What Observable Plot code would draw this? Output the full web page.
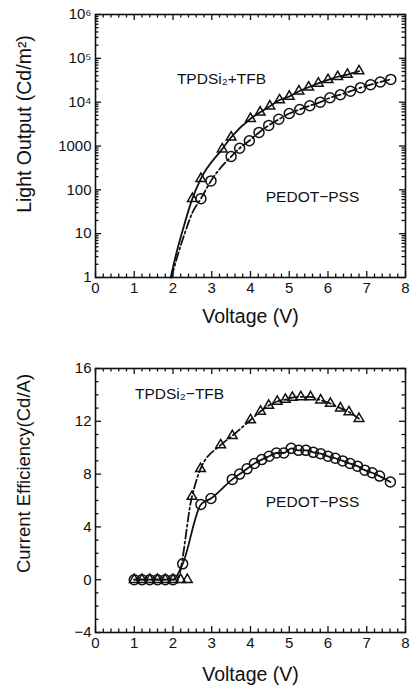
<!DOCTYPE html>
<html>
<head>
<meta charset="utf-8">
<script src="https://cdn.jsdelivr.net/npm/d3@7"></script>
<script src="https://cdn.jsdelivr.net/npm/@observablehq/plot@0.6"></script>
<style>
  body { margin: 0; background: #fff; }
  #chart { width: 413px; }
  #chart svg { display: block; }
</style>
</head>
<body>
<div id="chart"></div>
<script>
// ---------- data ----------
// Top panel: light output vs voltage
const tfbV = [2.5, 2.72, 3.27, 3.5, 4.0, 4.25, 4.5, 4.75, 5.0, 5.25, 5.5, 5.75, 6.0, 6.25, 6.5, 6.8];
const tfbL = [63, 180, 850, 1580, 4200, 5900, 8100, 11200, 13500, 17800, 21900, 26900, 32400, 38000, 42700, 51300];
const tfbLeadV = [1.94, 2.1, 2.25];
const tfbLeadL = [1, 4, 12];

const pedotV = [2.72, 2.98, 3.5, 3.72, 3.97, 4.22, 4.47, 4.73, 5.0, 5.27, 5.53, 5.8, 6.05, 6.32, 6.58, 6.84, 7.1, 7.35, 7.62];
const pedotL = [63, 160, 575, 890, 1320, 2040, 2950, 4070, 5500, 6800, 8300, 10000, 12600, 14800, 17800, 21400, 25100, 28800, 33100];
const pedotLeadV = [1.96, 2.12, 2.3, 2.5];
const pedotLeadL = [1, 3.2, 10, 30];

// Bottom panel: current efficiency vs voltage
const tfbEffV = [1.0, 1.2, 1.4, 1.6, 1.8, 2.0, 2.2, 2.37, 2.49, 2.71, 3.23, 3.53, 4.0, 4.26, 4.47, 4.69, 4.9, 5.08, 5.3, 5.55, 5.81, 6.06, 6.32, 6.54, 6.8];
const tfbEffE = [0, 0, 0, 0, 0, 0, 0, 0, 6.3, 8.4, 10.2, 10.9, 12.1, 12.75, 13.2, 13.5, 13.65, 13.8, 13.85, 13.85, 13.6, 13.35, 13.0, 12.7, 12.2];
const tfbEffLeadV = [1.0, 2.1];
const tfbEffLeadE = [0, 0];

const pedotEffV = [1.0, 1.2, 1.4, 1.6, 1.8, 2.0, 2.25, 2.72, 2.98, 3.53, 3.72, 3.91, 4.1, 4.29, 4.48, 4.67, 4.86, 5.05, 5.24, 5.43, 5.62, 5.81, 6.0, 6.19, 6.38, 6.57, 6.76, 6.95, 7.14, 7.33, 7.61];
const pedotEffE = [0, 0, 0, 0, 0, 0, 1.2, 5.7, 6.15, 7.6, 8.0, 8.4, 8.8, 9.1, 9.35, 9.6, 9.6, 9.95, 9.8, 9.8, 9.65, 9.55, 9.35, 9.2, 9.0, 8.8, 8.6, 8.3, 8.1, 7.85, 7.4];

// ticks and labels
const voltTicks = [0, 1, 2, 3, 4, 5, 6, 7, 8];
const lumTicks = [1, 10, 100, 1000, 1e4, 1e5, 1e6];
const lumTickLabels = ["1", "10", "100", "1000", "10\u2074", "10\u2075", "10\u2076"];
const effTicks = [-4, 0, 4, 8, 12, 16];

const xTitle = "Voltage (V)";
const yTitleTop = "Light Output (Cd/m\u00b2)";
const yTitleBottom = "Current Efficiency(Cd/A)";
const labelTfbTop = "TPDSi\u2082+TFB";
const labelTfbBottom = "TPDSi\u2082\u2212TFB";
const labelPedot = "PEDOT\u2212PSS";

// ---------- helpers ----------
const FONT = '"Liberation Sans", Arial, Helvetica, sans-serif';
const pts = (xs, ys) => xs.map((x, i) => ({x, y: ys[i]}));
const voltMinor = d3.range(0, 8.001, 0.2).map(d => +d.toFixed(1)).filter(d => !voltTicks.includes(d));
const lumMinor = d3.range(0, 6).flatMap(k => d3.range(2, 10).map(m => m * 10 ** k));
const effMinor = d3.range(-4, 16.001, 1).filter(d => !effTicks.includes(d));

function frameTicks(xMaj, xMin, yMaj, yMin, innerW, innerH) {
  const M = 6, m = 3.5, sw = 1.3;
  const o = {stroke: "#111", strokeWidth: sw};
  return [
    Plot.tickX(xMaj, {x: d => d, insetTop: innerH - M, ...o}),
    Plot.tickX(xMaj, {x: d => d, insetBottom: innerH - M, ...o}),
    Plot.tickX(xMin, {x: d => d, insetTop: innerH - m, ...o}),
    Plot.tickX(xMin, {x: d => d, insetBottom: innerH - m, ...o}),
    Plot.tickY(yMaj, {y: d => d, insetRight: innerW - M, ...o}),
    Plot.tickY(yMaj, {y: d => d, insetLeft: innerW - M, ...o}),
    Plot.tickY(yMin, {y: d => d, insetRight: innerW - m, ...o}),
    Plot.tickY(yMin, {y: d => d, insetLeft: innerW - m, ...o})
  ];
}

const dashDot = "9,3,2,3";

// ---------- top panel ----------
const W = 413;
const topH = 340, topMT = 14, topMB = 63, ML = 95, MR = 8;
const topPlot = Plot.plot({
  width: W, height: topH,
  marginTop: topMT, marginBottom: topMB, marginLeft: ML, marginRight: MR,
  style: {fontFamily: FONT, fontSize: "15px", color: "#111", background: "#fff", overflow: "visible"},
  x: {domain: [0, 8]},
  y: {type: "log", domain: [1, 1e6]},
  marks: [
    ...frameTicks(voltTicks, voltMinor, lumTicks, lumMinor, W - ML - MR, topH - topMT - topMB),
    Plot.frame({stroke: "#111", strokeWidth: 1.6}),
    Plot.axisX({ticks: voltTicks, tickSize: 0, tickPadding: 5, fontSize: 15, label: null}),
    Plot.axisY({ticks: lumTicks, tickSize: 0, tickPadding: 4, fontSize: 15, label: null,
      tickFormat: d => lumTickLabels[lumTicks.indexOf(d)]}),
    Plot.line(pts(tfbLeadV.concat(tfbV), tfbLeadL.concat(tfbL)),
      {x: "x", y: "y", stroke: "#111", strokeWidth: 1.8, curve: "monotone-x"}),
    Plot.line(pts(pedotLeadV.concat(pedotV), pedotLeadL.concat(pedotL)),
      {x: "x", y: "y", stroke: "#111", strokeWidth: 1.8, strokeDasharray: dashDot, curve: "monotone-x"}),
    Plot.dot(pts(tfbV, tfbL), {x: "x", y: "y", symbol: "triangle", r: 3.6, stroke: "#111", strokeWidth: 1.5, fill: "none"}),
    Plot.dot(pts(pedotV, pedotL), {x: "x", y: "y", symbol: "circle", r: 5, stroke: "#111", strokeWidth: 1.5, fill: "none"}),
    Plot.text([labelTfbTop], {x: 3.25, y: 34600, text: d => d, fontSize: 15.5}),
    Plot.text([labelPedot], {x: 5.6, y: 67, text: d => d, fontSize: 15.5}),
    Plot.text([xTitle], {text: d => d, frameAnchor: "bottom", dy: 45, fontSize: 19.5}),
    Plot.text([yTitleTop], {text: d => d, frameAnchor: "left", textAnchor: "middle", rotate: -90, dx: -71, dy: -22, fontSize: 19.5})
  ]
});

// ---------- bottom panel ----------
const botH = 349, botMT = 28, botMB = 57;
const bottomPlot = Plot.plot({
  width: W, height: botH,
  marginTop: botMT, marginBottom: botMB, marginLeft: ML, marginRight: MR,
  style: {fontFamily: FONT, fontSize: "15px", color: "#111", background: "#fff", overflow: "visible"},
  x: {domain: [0, 8]},
  y: {domain: [-4, 16]},
  marks: [
    ...frameTicks(voltTicks, voltMinor, effTicks, effMinor, W - ML - MR, botH - botMT - botMB),
    Plot.frame({stroke: "#111", strokeWidth: 1.6}),
    Plot.axisX({ticks: voltTicks, tickSize: 0, tickPadding: 5, fontSize: 15, label: null}),
    Plot.axisY({ticks: effTicks, tickSize: 0, tickPadding: 4, fontSize: 15, label: null}),
    Plot.line(pts(tfbEffLeadV.concat(tfbEffV.slice(8)), tfbEffLeadE.concat(tfbEffE.slice(8))),
      {x: "x", y: "y", stroke: "#111", strokeWidth: 1.8, strokeDasharray: dashDot, curve: "monotone-x"}),
    Plot.line(pts(pedotEffV, pedotEffE),
      {x: "x", y: "y", stroke: "#111", strokeWidth: 1.8, curve: "monotone-x"}),
    Plot.dot(pts(tfbEffV, tfbEffE), {x: "x", y: "y", symbol: "triangle", r: 3.6, stroke: "#111", strokeWidth: 1.5, fill: "none"}),
    Plot.dot(pts(pedotEffV, pedotEffE), {x: "x", y: "y", symbol: "circle", r: 5, stroke: "#111", strokeWidth: 1.5, fill: "none"}),
    Plot.text([labelTfbBottom], {x: 2.17, y: 14.1, text: d => d, fontSize: 15.5}),
    Plot.text([labelPedot], {x: 5.6, y: 5.85, text: d => d, fontSize: 15.5}),
    Plot.text([xTitle], {text: d => d, frameAnchor: "bottom", dy: 48, fontSize: 19.5}),
    Plot.text([yTitleBottom], {text: d => d, frameAnchor: "left", textAnchor: "middle", rotate: -90, dx: -71, dy: -27, fontSize: 18.5})
  ]
});

const root = document.getElementById("chart");
root.appendChild(topPlot);
root.appendChild(bottomPlot);
</script>
</body>
</html>
